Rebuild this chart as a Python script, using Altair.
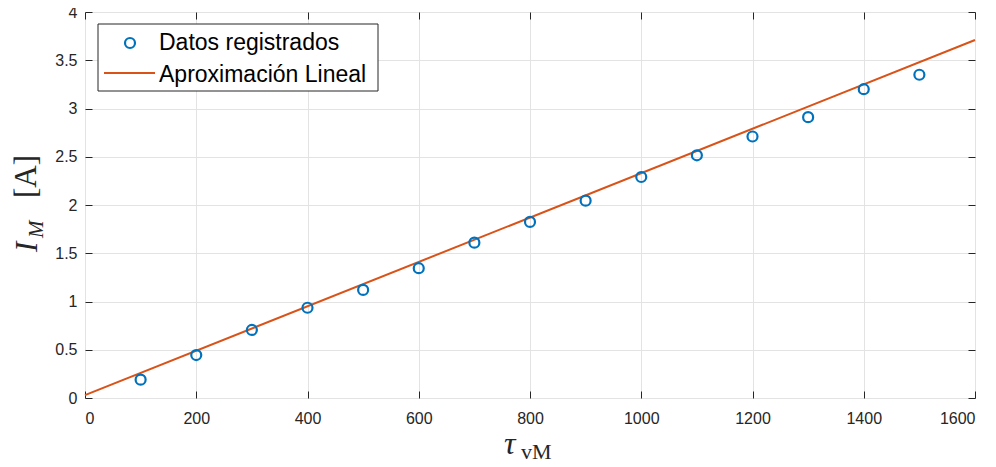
import altair as alt
import pandas as pd

# data
tau = [100, 200, 300, 400, 500, 600, 700, 800, 900, 1000, 1100, 1200, 1300, 1400, 1500]
corriente = [0.19, 0.445, 0.705, 0.935, 1.12, 1.345, 1.61, 1.825, 2.045, 2.29, 2.515, 2.71, 2.91, 3.20, 3.35]
fit_x = [0, 1600]
fit_y = [0.03, 3.71]
x_ticks = [0, 200, 400, 600, 800, 1000, 1200, 1400, 1600]
y_ticks = [0, 0.5, 1, 1.5, 2, 2.5, 3, 3.5, 4]
legend_labels = ["Datos registrados", "Aproximación Lineal"]

pts = pd.DataFrame({"x": tau, "y": corriente})
fit = pd.DataFrame({"x": fit_x, "y": fit_y})

W, H = 890, 386
AX = "#262626"
FONT = "Liberation Sans"
SERIF = "Liberation Serif"

xs = alt.Scale(domain=[0, 1600], nice=False)
ys = alt.Scale(domain=[0, 4], nice=False)

# main axes: labels + grid
main_x = alt.Axis(orient="bottom", values=x_ticks, format="d", grid=True, gridColor="#e3e3e3",
                  gridWidth=1, domain=False, ticks=False, labelPadding=12, labelFont=FONT,
                  labelFontSize=16, labelColor=AX, title=None)
main_y = alt.Axis(orient="left", values=y_ticks, labelExpr="'' + datum.value", grid=True,
                  gridColor="#e3e3e3", gridWidth=1, domain=False, ticks=False, labelPadding=8,
                  labelFont=FONT, labelFontSize=16, labelColor=AX, title=None)


def tick_axis(orient, vals):
    return alt.Axis(orient=orient, values=vals, offset=-7, tickSize=7, tickColor=AX, tickWidth=1,
                    ticks=True, domain=False, labels=False, grid=False, title=None)


line = alt.Chart(fit).mark_line(color="#D95319", strokeWidth=2).encode(
    x=alt.X("x:Q", scale=xs, axis=tick_axis("bottom", x_ticks)),
    y=alt.Y("y:Q", scale=ys, axis=tick_axis("left", y_ticks)),
)

line2 = alt.Chart(fit).mark_line(opacity=0).encode(
    x=alt.X("x:Q", scale=xs, axis=tick_axis("top", x_ticks)),
    y=alt.Y("y:Q", scale=ys, axis=tick_axis("right", y_ticks)),
)

points = alt.Chart(pts).mark_point(shape="circle", size=100, strokeWidth=2.2, color="#0072BD",
                                   filled=False, opacity=1).encode(
    x=alt.X("x:Q", scale=xs, axis=main_x),
    y=alt.Y("y:Q", scale=ys, axis=main_y),
)

one = pd.DataFrame({"a": [0]})

# legend box
leg_box = alt.Chart(one).mark_rect(fill="white", stroke=AX, strokeWidth=1).encode(
    x=alt.value(13), x2=alt.value(293), y=alt.value(12), y2=alt.value(79))
leg_pt = alt.Chart(one).mark_point(shape="circle", size=100, strokeWidth=2.2, color="#0072BD",
                                   filled=False, opacity=1).encode(x=alt.value(45), y=alt.value(31))
leg_ln = alt.Chart(one).mark_rule(color="#D95319", strokeWidth=2).encode(
    x=alt.value(19), x2=alt.value(70), y=alt.value(61))
leg_t1 = alt.Chart(one).mark_text(text=legend_labels[0], font=FONT, fontSize=23, align="left",
                                  baseline="alphabetic", color="black").encode(
    x=alt.value(74), y=alt.value(38))
leg_t2 = alt.Chart(one).mark_text(text=legend_labels[1], font=FONT, fontSize=23, align="left",
                                  baseline="alphabetic", color="black").encode(
    x=alt.value(74), y=alt.value(70))

# axis titles (math style)
yt_I = alt.Chart(one).mark_text(text="I", font=SERIF, fontSize=31, fontStyle="italic", angle=270,
                                align="left", baseline="alphabetic", color=AX).encode(
    x=alt.value(-48), y=alt.value(240))
yt_M = alt.Chart(one).mark_text(text="M", font=SERIF, fontSize=21, fontStyle="italic", angle=270,
                                align="left", baseline="alphabetic", color=AX).encode(
    x=alt.value(-42), y=alt.value(226))
yt_A = alt.Chart(one).mark_text(text="[A]", font=SERIF, fontSize=31, angle=270,
                                align="left", baseline="alphabetic", color=AX).encode(
    x=alt.value(-49), y=alt.value(186))
xt_tau = alt.Chart(one).mark_text(text="τ", font=SERIF, fontSize=32, fontStyle="italic",
                                  align="left", baseline="alphabetic", color=AX).encode(
    x=alt.value(419), y=alt.value(442))
xt_vm = alt.Chart(one).mark_text(text="vM", font=SERIF, fontSize=22,
                                 align="left", baseline="alphabetic", color=AX).encode(
    x=alt.value(436), y=alt.value(447))

chart = alt.layer(
    line2, line, points,
    leg_box, leg_pt, leg_ln, leg_t1, leg_t2,
    yt_I, yt_M, yt_A, xt_tau, xt_vm,
).resolve_axis(x="independent", y="independent").properties(
    width=W, height=H,
    autosize=alt.AutoSizeParams(type="none"),
    padding={"left": 77, "top": 4, "right": 13, "bottom": 62},
).configure_view(stroke=AX, strokeWidth=1).configure(background="white")

chart.save("out.html", embed_options={"renderer": "svg", "actions": False})
